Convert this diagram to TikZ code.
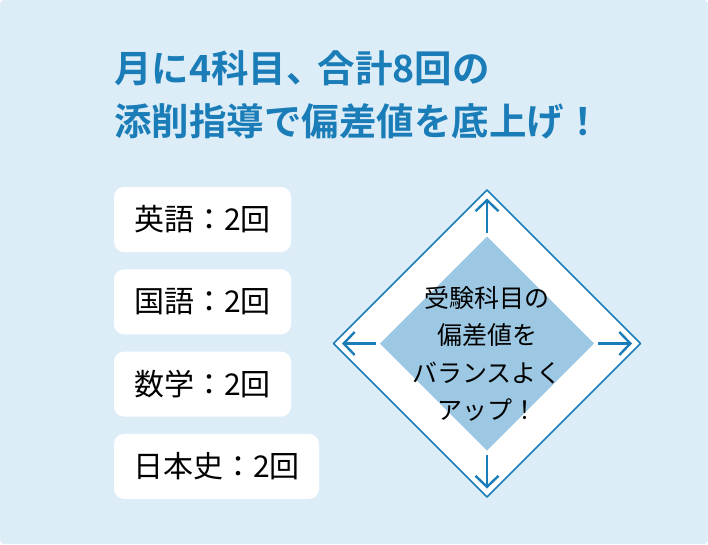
\documentclass[tikz,border=0pt]{standalone}
\usepackage{fontspec}
\newfontfamily\jpfont{Noto Sans CJK JP}
\newfontfamily\jpbold{Noto Sans CJK JP Bold}
\definecolor{bgblue}{HTML}{DCEDF8}
\definecolor{lineblue}{HTML}{1A7DB8}
\definecolor{midblue}{HTML}{9DC8E3}
\usetikzlibrary{arrows.meta}
\tikzset{
	subjbox/.style={fill=white, rounded corners=10pt, minimum height=65pt, inner sep=0pt, font=\jpfont\fontsize{30}{32}\selectfont},
	title/.style={anchor=west, inner sep=0pt, text=lineblue, font=\jpbold\fontsize{37.5}{40}\selectfont},
}
\begin{document}
\begin{tikzpicture}[x=1pt, y=-1pt, line join=round, >={Straight Barb[length=11pt, width=23pt]}]
			\useasboundingbox (0,0) rectangle (708,544);
			\fill[white] (0,0) rectangle (708,544);
			\fill[bgblue, rounded corners=4pt] (0,0) rectangle (708,544);
			% title
			\node[title] (t1) at (114,68) {月に4科目、\kern-6pt合計8回の};
			\node[title] (t2) at (114,121) {添削指導で偏差値を底上げ！};
			% subjects
			\node[subjbox, minimum width=177pt] (eng) at (202.5,219.5) {英語：2回};
			\node[subjbox, minimum width=177pt] (jpn) at (202.5,301.8) {国語：2回};
			\node[subjbox, minimum width=177pt] (math) at (202.5,384.1) {数学：2回};
			\node[subjbox, minimum width=205pt] (hist) at (216.5,466.4) {日本史：2回};
			% diamond
			\coordinate (c) at (487,343.5);
			\draw[lineblue, line width=1.6pt, fill=white] ([shift={(0,-153.5)}]c) -- ([shift={(153.5,0)}]c)
			-- ([shift={(0,153.5)}]c) -- ([shift={(-153.5,0)}]c) -- cycle;
			\fill[midblue] ([shift={(0,-107)}]c) -- ([shift={(107,0)}]c)
			-- ([shift={(0,107)}]c) -- ([shift={(-107,0)}]c) -- cycle;
			\foreach \a in {0,90,180,270}
			\draw[->, lineblue, line width=2.4pt] ([shift={(\a:111)}]c) -- ([shift={(\a:145)}]c);
			\node[align=center, font=\jpfont\fontsize{25}{37.5}\selectfont] (msg) at (487,354)
			{受験科目の\\偏差値を\\バランスよく\\アップ！};
		\end{tikzpicture}
\end{document}
